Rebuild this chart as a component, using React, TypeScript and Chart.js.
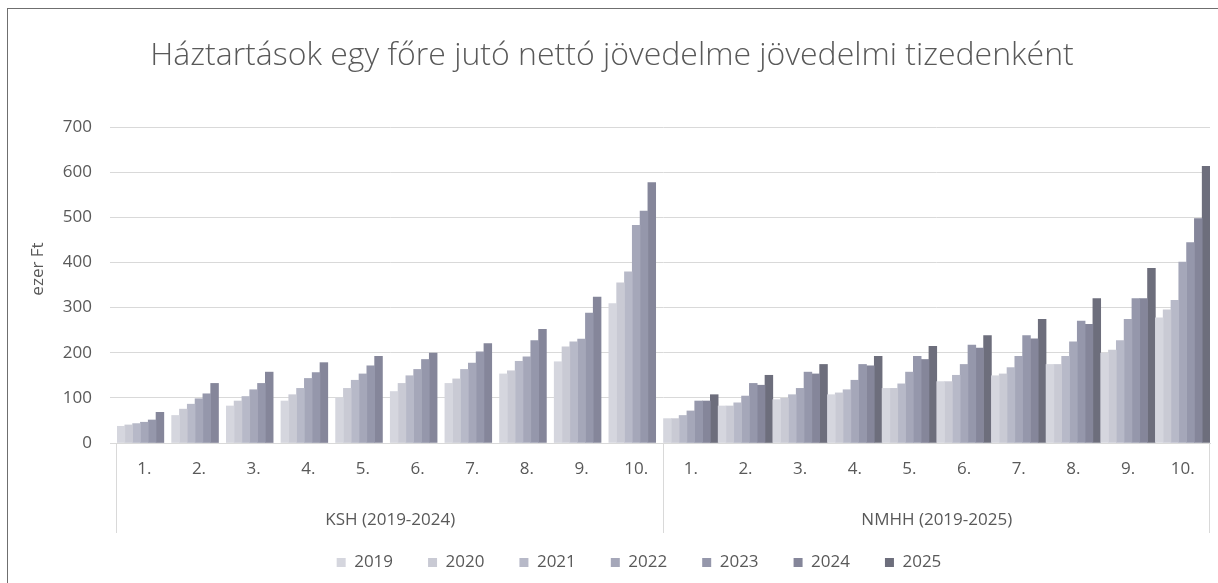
import React, { useEffect, useRef } from "react";
import { Chart, registerables } from "chart.js";

Chart.register(...registerables);

const categories = [
  "1.", "2.", "3.", "4.", "5.", "6.", "7.", "8.", "9.", "10.",
  "1.", "2.", "3.", "4.", "5.", "6.", "7.", "8.", "9.", "10.",
];
const groupLabels = ["KSH (2019-2024)", "NMHH (2019-2025)"];
const years = ["2019", "2020", "2021", "2022", "2023", "2024", "2025"];

// first 10 values: KSH deciles, last 10: NMHH deciles
const s2019 = [37, 61, 82, 93, 100, 114, 132, 153, 180, 309, 54, 82, 96, 107, 121, 136, 149, 174, 199, 277];
const s2020 = [40, 75, 93, 107, 121, 132, 142, 160, 213, 355, 54, 82, 99, 111, 121, 136, 153, 174, 206, 295];
const s2021 = [43, 86, 103, 121, 139, 149, 163, 181, 224, 379, 61, 89, 107, 118, 131, 150, 167, 192, 227, 316];
const s2022 = [46, 98, 118, 143, 153, 163, 177, 191, 230, 482, 71, 104, 121, 139, 157, 174, 192, 224, 274, 401];
const s2023 = [51, 109, 132, 156, 171, 185, 202, 227, 288, 514, 93, 132, 157, 174, 192, 217, 238, 270, 320, 444];
const s2024 = [68, 132, 157, 178, 192, 199, 220, 252, 323, 577, 93, 128, 153, 171, 185, 210, 231, 263, 320, 497];
const s2025 = [null, null, null, null, null, null, null, null, null, null, 107, 150, 174, 192, 214, 238, 274, 320, 387, 613];

const seriesValues = [s2019, s2020, s2021, s2022, s2023, s2024, s2025];
const seriesColors = ["#d5d6de", "#c9cad4", "#b7b9c8", "#a5a7b9", "#9597ab", "#85869a", "#6d6e7c"];

const yTicks = [0, 100, 200, 300, 400, 500, 600, 700];
const titleText = "Háztartások egy főre jutó nettó jövedelme jövedelmi tizedenként";
const yTitleText = "ezer Ft";

const FONT = '"Open Sans", "Noto Sans", sans-serif';
const TEXT = "#595959";
const GRID = "#d9d9d9";

const decorPlugin = {
  id: "decor",
  afterLayout(chart: any) {
    const lg = chart.legend;
    if (lg) {
      lg.left += 34;
      lg.right += 34;
    }
  },
  afterDraw(chart: any) {
    const { ctx, chartArea, scales } = chart;
    const x = scales.x;
    const seps = [chartArea.left, x.getPixelForValue(9.5), chartArea.right];
    ctx.save();
    ctx.strokeStyle = GRID;
    ctx.lineWidth = 1;
    seps.forEach((px: number) => {
      const p = Math.round(px) - 0.5;
      ctx.beginPath();
      ctx.moveTo(p, chartArea.bottom);
      ctx.lineTo(p, chartArea.bottom + 90);
      ctx.stroke();
    });
    ctx.fillStyle = TEXT;
    ctx.textAlign = "center";
    ctx.textBaseline = "middle";
    // group labels of the two-level category axis
    ctx.font = `17px ${FONT}`;
    ctx.fillText(groupLabels[0], x.getPixelForValue(4.5), chartArea.bottom + 77);
    ctx.fillText(groupLabels[1], x.getPixelForValue(14.5), chartArea.bottom + 77);
    // main title
    ctx.font = `300 32px ${FONT}`;
    ctx.fillText(titleText, chart.width / 2 + 3, 56);
    // y axis title
    ctx.translate(38, (chartArea.top + chartArea.bottom) / 2 - 16);
    ctx.rotate(-Math.PI / 2);
    ctx.font = `17px ${FONT}`;
    ctx.fillText(yTitleText, 0, 0);
    ctx.restore();
  },
};

export default function App() {
  const ref = useRef<HTMLCanvasElement | null>(null);

  useEffect(() => {
    if (!ref.current) return;
    const chart = new Chart(ref.current, {
      type: "bar",
      data: {
        labels: categories,
        datasets: years.map((y, i) => ({
          label: y,
          data: seriesValues[i],
          backgroundColor: seriesColors[i],
          borderWidth: 0,
          barPercentage: 1,
          categoryPercentage: 1,
        })),
      },
      options: {
        responsive: false,
        animation: false,
        events: [],
        layout: { padding: { top: 127, left: 0, right: 8, bottom: 2 } },
        plugins: {
          tooltip: { enabled: false },
          title: { display: false },
          legend: {
            position: "bottom",
            labels: {
              boxWidth: 9,
              boxHeight: 9,
              padding: 35,
              color: TEXT,
              font: { family: FONT, size: 17 },
            },
          },
        },
        scales: {
          x: {
            type: "category",
            position: "bottom",
            offset: true,
            grid: { display: false },
            border: { display: true, color: GRID, width: 1 },
            ticks: {
              color: TEXT,
              font: { family: FONT, size: 17 },
              padding: 8,
              maxRotation: 0,
              autoSkip: false,
            },
            afterFit: (s: any) => {
              s.height = 76;
            },
          },
          y: {
            min: 0,
            max: 700,
            afterBuildTicks: (s: any) => {
              s.ticks = yTicks.map((v) => ({ value: v }));
            },
            grid: { color: GRID, tickLength: 7, drawTicks: true },
            border: { display: false },
            ticks: {
              color: TEXT,
              font: { family: FONT, size: 17 },
              padding: 18,
            },
            afterFit: (s: any) => {
              s.width = 117;
            },
          },
        },
      },
      plugins: [decorPlugin],
    });
    return () => chart.destroy();
  }, []);

  return (
    <div style={{ position: "absolute", left: 0, top: 0, width: 1218, height: 583, background: "#fff", overflow: "hidden" }}>
      <canvas ref={ref} width={1218} height={583} style={{ display: "block" }} />
      <div
        style={{
          position: "absolute",
          left: 7,
          top: 8,
          width: 1300,
          height: 700,
          borderLeft: "1px solid #6f6f6f",
          borderTop: "1px solid #6f6f6f",
          pointerEvents: "none",
        }}
      />
    </div>
  );
}
